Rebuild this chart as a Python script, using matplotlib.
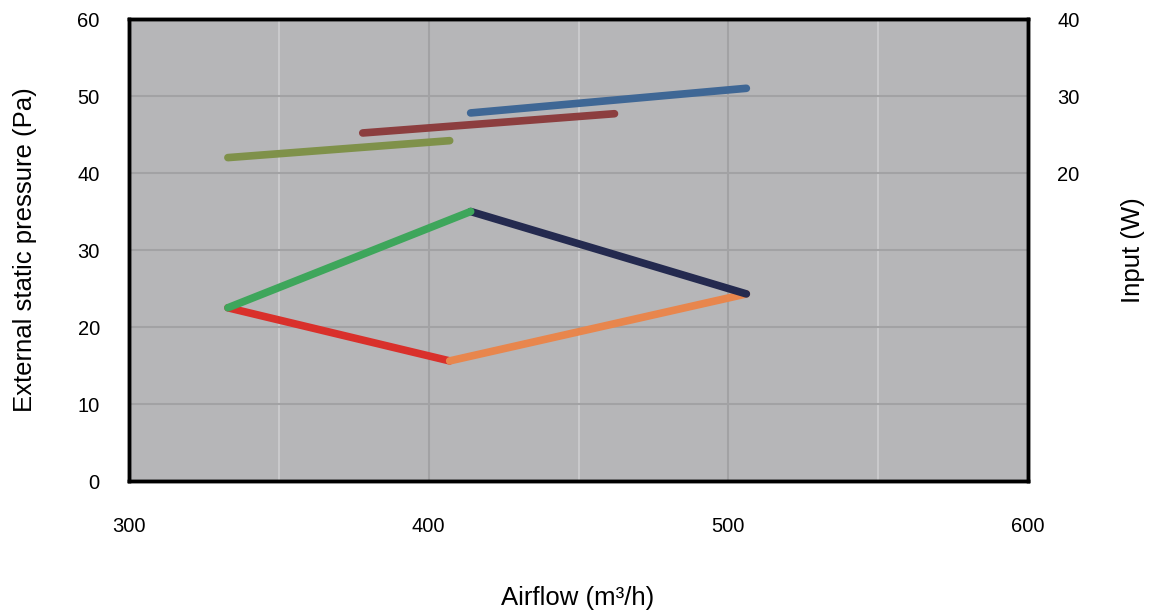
import numpy as np
import matplotlib.pyplot as plt

plt.rcParams['font.family'] = ['Liberation Sans', 'DejaVu Sans']

# pressure curves (left axis, Pa)
green_flow = [333, 414]
green_pa = [22.5, 35.0]
navy_flow = [414, 506]
navy_pa = [35.0, 24.3]
red_flow = [333, 407]
red_pa = [22.5, 15.6]
orange_flow = [407, 506]
orange_pa = [15.6, 24.3]

# input power curves (right axis, W)
olive_flow = [333, 407]
olive_w = [22.0, 24.2]
brown_flow = [378, 462]
brown_w = [25.2, 27.7]
blue_flow = [414, 506]
blue_w = [27.8, 31.0]

x_ticks = [300, 400, 500, 600]
left_ticks = [0, 10, 20, 30, 40, 50, 60]
right_ticks = [20, 30, 40]

fig = plt.figure(figsize=(11.56, 6.13), dpi=100)
ax = fig.add_axes([0.1116, 0.2153, 0.7777, 0.7537])
ax.set_facecolor('#b6b6b8')

ax.set_xlim(300, 600)
ax.set_ylim(0, 60)
ax.set_xticks(x_ticks)
ax.set_yticks(left_ticks)

# gridlines
for v in [350, 450, 550]:
    ax.axvline(v, color='#c9c9cb', lw=1.5, zorder=1)
for v in [400, 500]:
    ax.axvline(v, color='#a2a2a4', lw=1.5, zorder=1)
for v in [10, 20, 30, 40, 50]:
    ax.axhline(v, color='#a2a2a4', lw=1.5, zorder=1)

kw = dict(lw=5.5, solid_capstyle='round', zorder=3)
ax.plot(red_flow, red_pa, color='#d9302b', **kw)
ax.plot(orange_flow, orange_pa, color='#e8864d', **kw)
ax.plot(navy_flow, navy_pa, color='#242a4f', **kw)
ax.plot(green_flow, green_pa, color='#3ea65b', **kw)

ax2 = ax.twinx()
ax2.set_ylim(-20, 40)
ax2.set_yticks(right_ticks)
ax2.plot(olive_flow, olive_w, color='#7f914a', **kw)
ax2.plot(brown_flow, brown_w, color='#8c3e3f', **kw)
ax2.plot(blue_flow, blue_w, color='#3f6795', **kw)

for a in (ax, ax2):
    for s in a.spines.values():
        s.set_linewidth(2.5)
        s.set_color('black')
    a.tick_params(length=0, labelsize=14.5)

ax.tick_params(axis='y', pad=21)
ax.tick_params(axis='x', pad=26)
ax2.tick_params(axis='y', pad=21)

fig.text(578 / 1156, 1 - 598 / 613, 'Airflow (m\u00b3/h)', fontsize=18.5,
         ha='center', va='center')
fig.text(25 / 1156, 1 - 250 / 613, 'External static pressure (Pa)', fontsize=18.5,
         ha='center', va='center', rotation=90)
fig.text(1133 / 1156, 1 - 250 / 613, 'Input (W)', fontsize=18.5,
         ha='center', va='center', rotation=90)

fig.savefig('out.png', dpi=100)
